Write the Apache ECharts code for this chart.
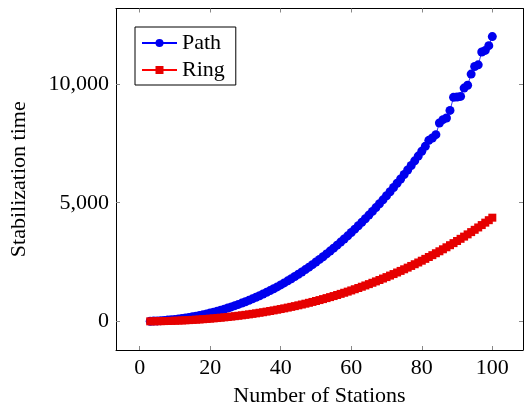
<!DOCTYPE html>
<html>
<head>
<meta charset="utf-8">
<script src="https://cdn.jsdelivr.net/npm/echarts@6/dist/echarts.min.js"></script>
<style>
  html, body { margin: 0; padding: 0; background: #fff; }
  #chart { width: 524px; height: 412px; }
</style>
</head>
<body>
<div id="chart"></div>
<script>
// Number of stations, 3 .. 100
const stations = [];
for (let n = 3; n <= 100; n++) stations.push(n);

// Stabilization time for the path topology
const pathTimes = [
  7, 13, 21, 30, 41, 53, 68, 84, 102, 122,
  144, 168, 194, 221, 251, 283, 316, 352, 390, 430,
  472, 516, 563, 611, 662, 715, 770, 828, 888, 950,
  1015, 1082, 1152, 1223, 1298, 1375, 1454, 1536, 1620, 1708,
  1797, 1890, 1985, 2082, 2183, 2286, 2391, 2500, 2611, 2726,
  2843, 2963, 3086, 3211, 3340, 3472, 3606, 3744, 3885, 4029,
  4175, 4325, 4479, 4635, 4794, 4957, 5123, 5292, 5464, 5640,
  5819, 6002, 6188, 6377, 6569, 6765, 6965, 7168, 7375, 7630,
  7730, 7870, 8360, 8500, 8570, 8890, 9440, 9455, 9480, 9830,
  9950, 10420, 10740, 10810, 11350, 11420, 11620, 12000
];

// Stabilization time for the ring topology
const ringTimes = [
  2, 4, 6, 9, 13, 17, 22, 27, 33, 39,
  46, 54, 63, 72, 81, 92, 103, 115, 128, 141,
  155, 170, 185, 202, 219, 237, 256, 276, 296, 317,
  339, 363, 386, 411, 437, 464, 491, 520, 549, 580,
  611, 643, 677, 711, 746, 783, 820, 859, 898, 939,
  981, 1023, 1067, 1112, 1159, 1206, 1254, 1304, 1355, 1407,
  1460, 1514, 1570, 1627, 1685, 1744, 1805, 1866, 1930, 1994,
  2060, 2127, 2195, 2265, 2336, 2408, 2482, 2557, 2634, 2712,
  2791, 2872, 2954, 3038, 3123, 3210, 3298, 3388, 3479, 3572,
  3666, 3762, 3859, 3958, 4059, 4161, 4265, 4370
];

const xTicks = [0, 20, 40, 60, 80, 100];
const yTicks = [0, 5000, 10000];

const FONT = '"Liberation Serif", "DejaVu Serif", serif';
const TEXT = { fontFamily: FONT, fontSize: 22, color: '#000' };
const TICK = { show: true, inside: true, length: 4, lineStyle: { color: '#888', width: 1 } };
const LINE = { show: true, onZero: false, lineStyle: { color: '#000', width: 1 } };

const pairs = (ys) => stations.map((x, i) => [x, ys[i]]);

const chart = echarts.init(document.getElementById('chart'), null, { renderer: 'canvas' });
chart.setOption({
  animation: false,
  backgroundColor: '#fff',
  grid: { left: 114, right: 1, top: 8.5, bottom: 61, containLabel: false },
  xAxis: [
    {
      type: 'value', min: -6.7, max: 108.7, position: 'bottom',
      name: 'Number of Stations', nameLocation: 'middle', nameGap: 35,
      nameTextStyle: TEXT,
      axisLine: LINE,
      axisTick: Object.assign({ customValues: xTicks }, TICK),
      axisLabel: Object.assign({ customValues: xTicks, margin: 7 }, TEXT),
      splitLine: { show: false }
    },
    {
      type: 'value', min: -6.7, max: 108.7, position: 'top',
      axisLine: LINE,
      axisTick: Object.assign({ customValues: xTicks }, TICK),
      axisLabel: { show: false },
      splitLine: { show: false }
    }
  ],
  yAxis: [
    {
      type: 'value', min: -1206, max: 13185, position: 'left',
      name: 'Stabilization time', nameLocation: 'middle', nameGap: 86,
      nameTextStyle: TEXT,
      axisLine: LINE,
      axisTick: Object.assign({ customValues: yTicks }, TICK),
      axisLabel: Object.assign({
        customValues: yTicks, margin: 7,
        formatter: (v) => v.toLocaleString('en-US')
      }, TEXT),
      splitLine: { show: false }
    },
    {
      type: 'value', min: -1206, max: 13185, position: 'right',
      axisLine: LINE,
      axisTick: Object.assign({ customValues: yTicks }, TICK),
      axisLabel: { show: false },
      splitLine: { show: false }
    }
  ],
  legend: {
    orient: 'vertical', left: 135, top: 27,
    borderColor: '#000', borderWidth: 1, borderRadius: 0,
    padding: [5, 11, 4, 6], itemGap: 5,
    itemWidth: 35, itemHeight: 10,
    textStyle: TEXT,
    data: ['Path', 'Ring']
  },
  series: [
    {
      name: 'Path', type: 'line', data: pairs(pathTimes),
      symbol: 'circle', symbolSize: 9,
      lineStyle: { color: '#0000ff', width: 0.8 },
      itemStyle: { color: '#0000ee' }
    },
    {
      name: 'Ring', type: 'line', data: pairs(ringTimes),
      symbol: 'rect', symbolSize: 8,
      lineStyle: { color: '#ff0000', width: 0.8 },
      itemStyle: { color: '#e60000' }
    }
  ]
});
</script>
</body>
</html>
